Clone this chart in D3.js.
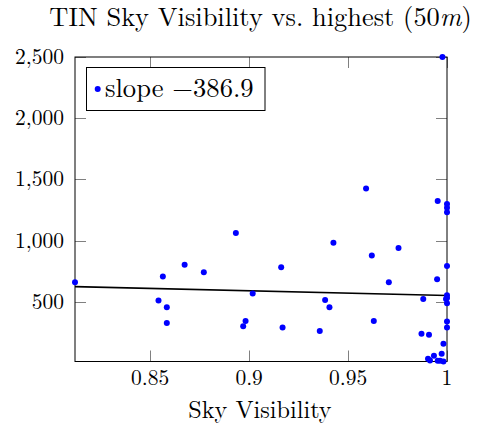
<!DOCTYPE html>
<html>
<head>
<meta charset="utf-8">
<script src="https://cdn.jsdelivr.net/npm/d3@7"></script>
<style>
  html, body { margin: 0; padding: 0; background: #fff; }
  svg { display: block; }
</style>
</head>
<body>
<svg id="chart" width="480" height="430"></svg>
<script>
// Sky visibility per sample and the highest obstruction value within 50 m
const skyVisibility = [
  0.812, 0.8564, 0.8674, 0.8771, 0.8933, 0.8542, 0.8584, 0.8584, 0.9018, 0.8982,
  0.897, 0.9591, 0.9953, 1.0, 1.0, 1.0, 0.9426, 0.9755, 0.962, 0.9162,
  1.0, 0.995, 0.9706, 1.0, 1.0, 0.9995, 1.0, 0.988, 0.9384, 0.9406,
  0.963, 1.0, 1.0, 0.9169, 0.9357, 0.9871, 0.9909, 0.9982, 0.9973, 0.9934,
  0.9904, 0.9914, 0.9953, 0.9965, 0.9982, 0.9977
];
const highest = [
  660, 706, 802, 742, 1061, 510, 455, 326, 567, 343,
  299, 1425, 1324, 1299, 1269, 1231, 982, 939, 879, 783,
  793, 684, 660, 553, 531, 523, 488, 523, 515, 455,
  343, 338, 289, 289, 261, 239, 231, 157, 75, 59,
  34, 20, 18, 18, 12, 2500
];

// Linear fit
const slope = -386.9;
const intercept = 938;

const xTicks = [0.85, 0.9, 0.95, 1];
const xTickLabels = ["0.85", "0.9", "0.95", "1"];
const yTicks = [500, 1000, 1500, 2000, 2500];
const yTickLabels = ["500", "1,000", "1,500", "2,000", "2,500"];

const titleText = "TIN Sky Visibility vs. highest (50";
const xLabel = "Sky Visibility";
const legendLabel = "slope \u2212" + Math.abs(slope).toFixed(1);

const FONT = '"Latin Modern Roman", "Liberation Serif", serif';

const svg = d3.select("#chart").style("font-family", FONT);
const plot = { left: 75, right: 447, top: 57, bottom: 361.5 };

const x = d3.scaleLinear().domain([0.812, 1]).range([plot.left, plot.right]);
const y = d3.scaleLinear().domain([12, 2500]).range([plot.bottom, plot.top]);

function label(sel) {
  return sel.style("font-family", FONT).attr("fill", "#000");
}

// Title
const title = label(svg.append("text"))
  .attr("x", 260.5).attr("y", 26)
  .attr("text-anchor", "middle")
  .style("font-size", "26.4px");
title.append("tspan").text(titleText);
title.append("tspan").style("font-style", "italic").text("m");
title.append("tspan").text(")");

// Ticks (inside, on all four sides)
const tickLen = 11;
const tickColor = "#808080";
const ticks = svg.append("g").attr("stroke", tickColor).attr("stroke-width", 1);
xTicks.forEach(t => {
  const px = Math.round(x(t)) + 0.5;
  ticks.append("line").attr("x1", px).attr("x2", px)
    .attr("y1", plot.bottom).attr("y2", plot.bottom - tickLen);
  ticks.append("line").attr("x1", px).attr("x2", px)
    .attr("y1", plot.top).attr("y2", plot.top + tickLen);
});
yTicks.forEach(t => {
  const py = Math.round(y(t)) + 0.5;
  ticks.append("line").attr("x1", plot.left).attr("x2", plot.left + tickLen)
    .attr("y1", py).attr("y2", py);
  ticks.append("line").attr("x1", plot.right).attr("x2", plot.right - tickLen)
    .attr("y1", py).attr("y2", py);
});

// Tick labels
label(svg.append("g").selectAll("text").data(xTicks).join("text"))
  .attr("x", d => x(d)).attr("y", 385)
  .attr("text-anchor", "middle")
  .style("font-size", "21.5px")
  .text((d, i) => xTickLabels[i]);
label(svg.append("g").selectAll("text").data(yTicks).join("text"))
  .attr("x", 64).attr("y", d => y(d) + 7)
  .attr("text-anchor", "end")
  .style("font-size", "21.5px")
  .text((d, i) => yTickLabels[i]);

// Axis label
label(svg.append("text"))
  .attr("x", 260).attr("y", 418)
  .attr("text-anchor", "middle")
  .style("font-size", "24.2px")
  .text(xLabel);

// Regression line
const [x0, x1] = x.domain();
svg.append("line")
  .attr("x1", x(x0)).attr("y1", y(intercept + slope * x0))
  .attr("x2", x(x1)).attr("y2", y(intercept + slope * x1))
  .attr("stroke", "#000").attr("stroke-width", 1.6);

// Frame
svg.append("rect")
  .attr("x", plot.left).attr("y", plot.top)
  .attr("width", plot.right - plot.left).attr("height", plot.bottom - plot.top)
  .attr("fill", "none").attr("stroke", "#000").attr("stroke-width", 1);

// Points
svg.append("g").selectAll("circle").data(skyVisibility).join("circle")
  .attr("cx", d => x(d))
  .attr("cy", (d, i) => y(highest[i]))
  .attr("r", 3)
  .attr("fill", "#0000ff");

// Legend
const legend = svg.append("g");
legend.append("rect")
  .attr("x", 86.5).attr("y", 67.5).attr("width", 178.5).attr("height", 43)
  .attr("fill", "#fff").attr("stroke", "#000").attr("stroke-width", 1);
legend.append("circle").attr("cx", 97.7).attr("cy", 89).attr("r", 3).attr("fill", "#0000ff");
label(legend.append("text"))
  .attr("x", 105).attr("y", 97)
  .style("font-size", "26.6px")
  .text(legendLabel);
</script>
</body>
</html>
